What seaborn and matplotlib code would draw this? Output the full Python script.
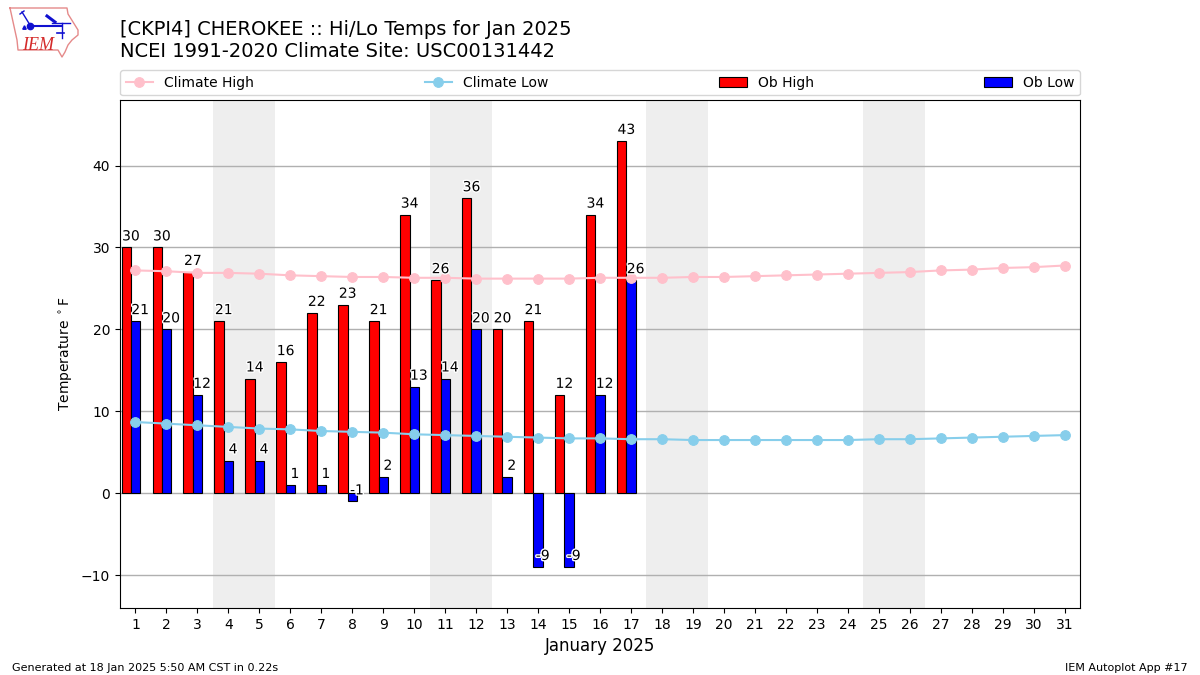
import matplotlib
matplotlib.use("Agg")
import matplotlib.pyplot as plt
import matplotlib.patheffects as pe
import numpy as np
import seaborn as sns

# Observed temps, only through Jan 17
ob_days = list(range(1, 18))
ob_high = [30, 30, 27, 21, 14, 16, 22, 23, 21, 34, 26, 36, 20, 21, 12, 34, 43]
ob_low = [21, 20, 12, 4, 4, 1, 1, -1, 2, 13, 14, 20, 2, -9, -9, 12, 26]

# Climatology for the full month
days = list(range(1, 32))
climate_high = [27.2, 27.1, 26.9, 26.9, 26.8, 26.6, 26.5, 26.4, 26.4, 26.3, 26.3,
                26.2, 26.2, 26.2, 26.2, 26.3, 26.3, 26.3, 26.4, 26.4, 26.5, 26.6,
                26.7, 26.8, 26.9, 27.0, 27.2, 27.3, 27.5, 27.6, 27.8]
climate_low = [8.7, 8.5, 8.3, 8.1, 7.9, 7.8, 7.6, 7.5, 7.4, 7.2, 7.1, 7.0, 6.9,
               6.8, 6.7, 6.7, 6.6, 6.6, 6.5, 6.5, 6.5, 6.5, 6.5, 6.5, 6.6, 6.6,
               6.7, 6.8, 6.9, 7.0, 7.1]

# Weekend shading
weekends = [(4, 5), (11, 12), (18, 19), (25, 26)]

fig = plt.figure(figsize=(12, 6.75), dpi=100)
ax = fig.add_axes([120 / 1200, 1 - 608 / 675, 960 / 1200, 508 / 675])

for start, end in weekends:
    ax.axvspan(start - 0.5, end + 0.5, color="#eeeeee", lw=0, zorder=0)

# Bars
sns.barplot(x=np.array(ob_days) - 0.3, y=ob_high, native_scale=True, width=0.3,
            color="red", saturation=1, edgecolor="black", linewidth=0.8,
            label="Ob High", zorder=2, ax=ax)
sns.barplot(x=np.array(ob_days), y=ob_low, native_scale=True, width=0.3,
            color="blue", saturation=1, edgecolor="black", linewidth=0.8,
            label="Ob Low", zorder=2, ax=ax)

# Climate lines
sns.lineplot(x=days, y=climate_high, color="pink", marker="o", markersize=7,
             markeredgecolor="pink", linewidth=1.5, label="Climate High", zorder=3, ax=ax)
sns.lineplot(x=days, y=climate_low, color="skyblue", marker="o", markersize=7,
             markeredgecolor="skyblue", linewidth=1.5, label="Climate Low", zorder=3, ax=ax)

# Value labels
halo = [pe.withStroke(linewidth=2, foreground="white")]
for day, high, low in zip(ob_days, ob_high, ob_low):
    ax.text(day - 0.15, high + 0.5, str(high), ha="center", va="bottom", fontsize=10,
            path_effects=halo, zorder=5)
    ax.text(day + 0.15, low + 0.5, str(low), ha="center", va="bottom", fontsize=10,
            path_effects=halo, zorder=5)

ax.set_xlim(0.5, 31.5)
ax.set_ylim(-14, 48)
ax.set_xticks(days)
ax.set_xticklabels([str(d) for d in days])
ax.set_yticks([-10, 0, 10, 20, 30, 40])
ax.yaxis.grid(True, color="#b0b0b0", linewidth=1)
ax.set_axisbelow(True)
ax.set_xlabel("January 2025", fontsize=12)
ax.set_ylabel(r"Temperature $^\circ$F", fontsize=10)

# Legend strip above the axes
handles, labels = ax.get_legend_handles_labels()
lookup = dict(zip(labels, handles))
order = ["Climate High", "Climate Low", "Ob High", "Ob Low"]
ax.legend([lookup[k] for k in order], order, ncol=4, mode="expand", loc="lower left",
          bbox_to_anchor=(0, 1.009, 1, 0.05), borderaxespad=0, fontsize=10)

# Titles and footer
fig.text(120 / 1200, 1 - 61 / 675,
         "[CKPI4] CHEROKEE :: Hi/Lo Temps for Jan 2025\nNCEI 1991-2020 Climate Site: USC00131442",
         fontsize=14, ha="left", va="bottom")
fig.text(12 / 1200, 1 - 671 / 675, "Generated at 18 Jan 2025 5:50 AM CST in 0.22s", fontsize=8)
fig.text(1188 / 1200, 1 - 671 / 675, "IEM Autoplot App #17", fontsize=8, ha="right")

# IEM logo, drawn in pixel units
logo = fig.add_axes([0, 1 - 60 / 675, 90 / 1200, 60 / 675])
logo.set_xlim(0, 90)
logo.set_ylim(60, 0)
logo.axis("off")
outline_x = [10, 67, 68, 73, 78, 78, 72, 68, 65, 62, 58, 18, 17, 10]
outline_y = [8, 8, 14, 22, 30, 35, 40, 45, 52, 57, 50, 50, 40, 8]
logo.plot(outline_x, outline_y, color="#e58a8a", lw=1)
blue = "#1010d0"
logo.plot([30, 62], [26, 26], color=blue, lw=1.5)
logo.plot([22, 30], [12, 25], color=blue, lw=1)
logo.plot([20, 24], [14, 11], color=blue, lw=1)
logo.plot([47, 55], [16, 22], color=blue, lw=2.2)
logo.plot([52, 70], [23, 23], color=blue, lw=1)
logo.plot([62, 62], [23, 38], color=blue, lw=1)
logo.plot([57, 64], [33, 33], color=blue, lw=1.2)
logo.plot([30], [26], "o", color=blue, ms=4.5)
logo.plot([24], [27], "^", color=blue, ms=2.5)
logo.text(38, 45, "IEM", color="#d42a2a", fontsize=13, family="Liberation Serif",
          style="italic", ha="center", va="center")

fig.savefig("out.png", dpi=100)
